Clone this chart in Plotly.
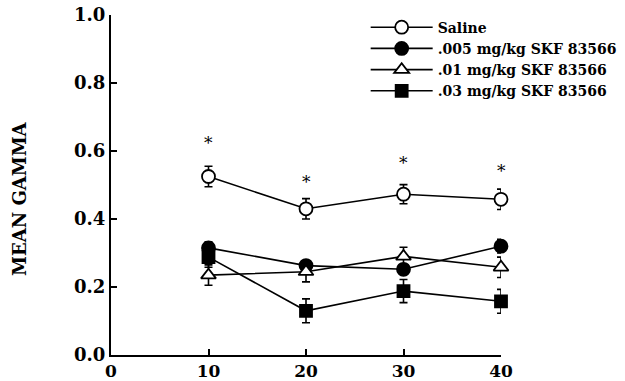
import plotly.graph_objects as go

x = [10, 20, 30, 40]
saline = [0.525, 0.43, 0.473, 0.458]
saline_err = [0.03, 0.03, 0.028, 0.03]
d005 = [0.315, 0.263, 0.252, 0.32]
d005_err = [0.018, 0.012, 0.015, 0.02]
d01 = [0.235, 0.245, 0.29, 0.258]
d01_err = [0.03, 0.03, 0.027, 0.03]
d03 = [0.288, 0.13, 0.188, 0.158]
d03_err = [0.03, 0.035, 0.034, 0.035]
star_y = [0.625, 0.51, 0.565, 0.54]

font_family = "DejaVu Serif"
fig = go.Figure()

def add(name, y, err, symbol, fill):
    fig.add_trace(go.Scatter(
        x=x, y=y, name=name, mode="lines+markers", cliponaxis=False,
        line=dict(color="black", width=1.6),
        marker=dict(symbol=symbol, size=13 if "square" not in symbol else 12,
                    color=fill, line=dict(color="black", width=1.8)),
        error_y=dict(type="data", array=err, color="black", thickness=1.6, width=4),
    ))

add("Saline", saline, saline_err, "circle", "white")
add(".005 mg/kg SKF 83566", d005, d005_err, "circle", "black")
add(".01 mg/kg SKF 83566", d01, d01_err, "triangle-up", "white")
add(".03 mg/kg SKF 83566", d03, d03_err, "square", "black")

for xi, yi in zip(x, star_y):
    fig.add_annotation(x=xi, y=yi, text="*", showarrow=False,
                       font=dict(family=font_family, size=17, color="#000000"))

fig.add_annotation(xref="paper", yref="paper", x=-0.235, y=0.46,
                   text="MEAN GAMMA", textangle=-90, showarrow=False,
                   xanchor="center", yanchor="middle",
                   font=dict(family=font_family, size=18, weight="bold", color="black"))

fig.update_layout(
    width=625, height=381,
    margin=dict(l=111, r=124, t=15, b=26, autoexpand=False),
    paper_bgcolor="white", plot_bgcolor="white",
    font=dict(family=font_family, color="black", size=15),
    showlegend=True,
    legend=dict(x=0.653, y=1.01, xanchor="left", yanchor="top",
                font=dict(family=font_family, size=14, weight="bold"),
                itemwidth=62, tracegroupgap=0, bgcolor="rgba(0,0,0,0)",
                itemclick=False),
    xaxis=dict(range=[0, 40], tickvals=[0, 10, 20, 30, 40],
               showline=True, linecolor="black", linewidth=2,
               ticks="inside", ticklen=6, tickwidth=1.5, tickcolor="black",
               showgrid=False, zeroline=False, automargin=False,
               ticklabeloverflow="allow",
               tickfont=dict(family=font_family, size=17, weight="bold")),
    yaxis=dict(range=[0, 1.0], tickvals=[0, 0.2, 0.4, 0.6, 0.8, 1.0],
               tickformat=".1f", automargin=False,
               ticklabeloverflow="allow",
               showline=True, linecolor="black", linewidth=2,
               ticks="inside", ticklen=6, tickwidth=1.5, tickcolor="black",
               showgrid=False, zeroline=False,
               tickfont=dict(family=font_family, size=18, weight="bold")),
)

fig.write_html("out.html",
               config={"displayModeBar": False},
               post_script="document.body.style.margin='0';document.body.style.overflow='hidden';")
